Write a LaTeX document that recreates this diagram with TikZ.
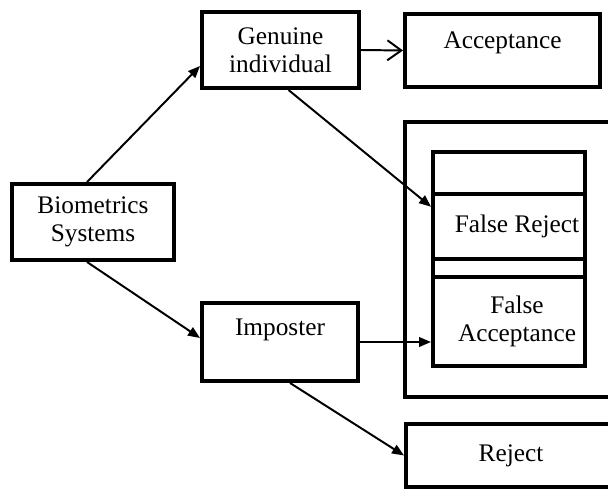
\documentclass[tikz,border=0pt]{standalone}
\usepackage{fontspec}
\setmainfont{Liberation Serif}
\usetikzlibrary{arrows.meta}
\begin{document}
\begin{tikzpicture}[>={Triangle[length=3mm,width=2.4mm]},
    txt/.style={font=\fontsize{18pt}{20pt}\selectfont, align=center},
    block/.style={draw, line width=2.8pt, inner sep=2pt, txt},
    arr/.style={->, line width=1.4pt}]
    % Границы рисунка
    \useasboundingbox (0,0) rectangle (15.2,-12.275);
    % Левые блоки
    \node[block, minimum width=4.05cm, minimum height=1.9cm] (bio) at (2.325,-5.55) {Biometrics\\Systems};
    \node[block, minimum width=3.925cm, minimum height=1.9cm] (gen) at (7.0125,-1.25) {Genuine\\individual};
    \node[block, minimum width=3.9cm, minimum height=1.95cm,
      label={[txt,yshift=3mm,name=imptext]center:Imposter}] (imp) at (7.0,-8.55) {};
    % Правые блоки
    \node[block, minimum width=4.875cm, minimum height=1.825cm,
      label={[txt,yshift=2mm,name=acctext]center:Acceptance}] (acc) at (12.5625,-1.2625) {};
    \node[block, minimum width=5.25cm, minimum height=1.575cm] (rej) at (12.775,-11.3875) {Reject};
    % Внешняя рамка
    \draw[line width=2.8pt] (10.125,-3.05) rectangle (15.6,-9.925);
    % Столбик ошибок
    \node[block, minimum width=3.8cm, minimum height=1.0625cm] (top) at (12.725,-4.33) {};
    \node[block, minimum width=3.8cm, minimum height=1.6125cm,
      label={[txt,xshift=2mm,name=frtext]center:False Reject}] (fr) at (12.725,-5.669) {};
    \node[block, minimum width=3.8cm, minimum height=0.45cm] (gap) at (12.725,-6.7) {};
    \node[block, minimum width=3.8cm, minimum height=2.225cm,
      label={[txt,xshift=2mm,name=fatext]center:False\\Acceptance}] (fa) at (12.725,-8.0375) {};
    % Стрелки
    \draw[arr] ([xshift=-1.5mm]bio.north) -- ([yshift=-4mm]gen.west);
    \draw[arr] ([xshift=-1.5mm]bio.south) -- ([yshift=1mm]imp.west);
    \draw[line width=1.4pt, -{Straight Barb[length=3.5mm,width=5mm]}] (gen.east) -- (acc.west);
    \draw[arr] ([xshift=2mm]gen.south) -- ([yshift=5mm]fr.west);
    \draw[arr] (imp.east) -- (imp.east -| fa.west);
    \draw[arr] ([xshift=2.5mm]imp.south) -- (rej.west);
\end{tikzpicture}
\end{document}
